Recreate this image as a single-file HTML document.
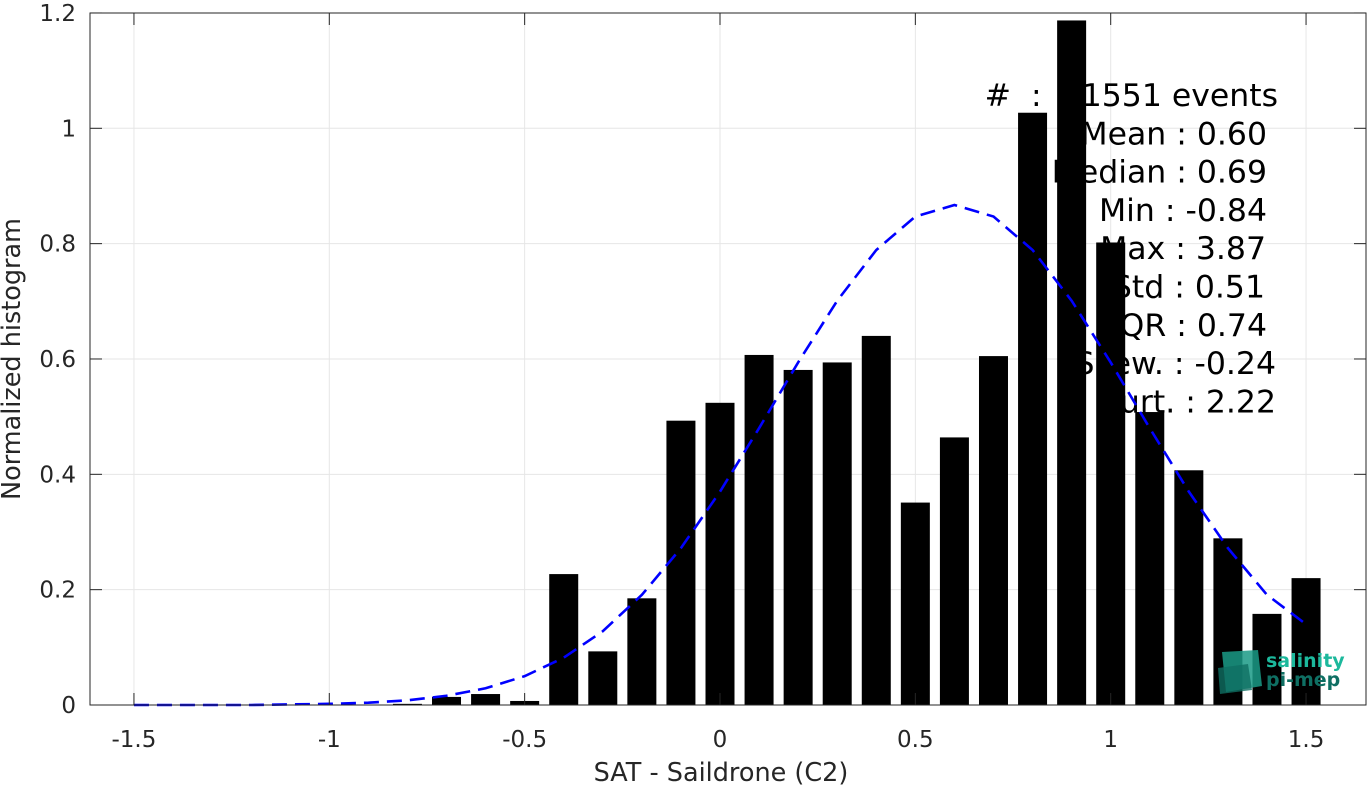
<!DOCTYPE html>
<html><head><meta charset="utf-8"><style>
body{margin:0;background:#fff;width:1367px;height:785px;overflow:hidden}
text{font-family:"DejaVu Sans","Liberation Sans",sans-serif;white-space:pre}
</style></head><body>
<svg id="chart" width="1367" height="785" xmlns="http://www.w3.org/2000/svg"></svg>
<script>
const binCenters=[-0.8,-0.7,-0.6,-0.5,-0.4,-0.3,-0.2,-0.1,0,0.1,0.2,0.3,0.4,0.5,0.6,0.7,0.8,0.9,1.0,1.1,1.2,1.3,1.4,1.5];
const binValues=[0.002,0.014,0.019,0.007,0.227,0.093,0.185,0.493,0.524,0.607,0.581,0.594,0.640,0.351,0.464,0.605,1.027,1.187,0.802,0.508,0.407,0.289,0.158,0.220];
const fitX=[-1.5,-1.4,-1.3,-1.2,-1.1,-1.0,-0.9,-0.8,-0.7,-0.6,-0.5,-0.4,-0.3,-0.2,-0.1,0,0.1,0.2,0.3,0.4,0.5,0.6,0.7,0.8,0.9,1.0,1.1,1.2,1.3,1.4,1.5];
const fitY=[0.0,0.0,0.0,0.0,0.001,0.002,0.004,0.008,0.016,0.029,0.050,0.082,0.128,0.191,0.272,0.370,0.480,0.594,0.701,0.789,0.847,0.867,0.847,0.789,0.701,0.594,0.480,0.370,0.272,0.191,0.140];
const xTicks=[-1.5,-1,-0.5,0,0.5,1,1.5];
const xTickLabels=["-1.5","-1","-0.5","0","0.5","1","1.5"];
const yTicks=[0,0.2,0.4,0.6,0.8,1,1.2];
const yTickLabels=["0","0.2","0.4","0.6","0.8","1","1.2"];
const statsLines=["#  :  11551 events","Mean : 0.60","Median : 0.69","Min : -0.84","Max : 3.87","Std : 0.51","IQR : 0.74","Skew. : -0.24","Kurt. : 2.22"];
const statsEnds=[1278,1267,1267,1267,1266,1265,1267,1276,1276];

const L=90,R=1366,T=13,B=705;
const X=v=>720+v*390.7;
const Y=v=>705-v*576.7;
const svg=document.getElementById('chart');
const NS='http://www.w3.org/2000/svg';
function mk(tag,attrs,parent){const e=document.createElementNS(NS,tag);for(const k in attrs)e.setAttribute(k,attrs[k]);(parent||svg).appendChild(e);return e;}

xTicks.forEach((t,i)=>{
  const g=mk('line',{x1:X(t),x2:X(t),y1:T,y2:B,stroke:'#e6e6e6','stroke-width':1});
  
  
});
yTicks.forEach((t,i)=>{
  const g=mk('line',{x1:L,x2:R,y1:Y(t),y2:Y(t),stroke:'#e6e6e6','stroke-width':1});
  
  
});
statsLines.forEach((s,i)=>{
  const t=mk('text',{x:statsEnds[i],y:106+i*38.3,'font-size':31.5,'text-anchor':'end',fill:'#000'});
  t.textContent=s;
  
  
});
binCenters.forEach((c,i)=>{
  const h=Y(0)-Y(binValues[i]);
  const b=mk('rect',{x:X(c)-14.5,y:Y(binValues[i]),width:29,height:h,fill:'#000'});
  
  
});
const pts=fitX.map((x,i)=>X(x)+','+Y(fitY[i])).join(' ');
const pl=mk('polyline',{points:pts,fill:'none',stroke:'#0000ff','stroke-width':2.6,'stroke-dasharray':'15,8'});


const box=mk('rect',{x:L,y:T,width:R-L,height:B-T,fill:'none',stroke:'#262626','stroke-width':1});


xTicks.forEach((t,i)=>{
  mk('line',{x1:X(t),x2:X(t),y1:B,y2:B-12,stroke:'#262626'});
  mk('line',{x1:X(t),x2:X(t),y1:T,y2:T+12,stroke:'#262626'});
  const lb=mk('text',{x:X(t),y:B+42,'font-size':23,'text-anchor':'middle',fill:'#262626'});
  lb.textContent=xTickLabels[i];
  
  
});
yTicks.forEach((t,i)=>{
  mk('line',{x1:L,x2:L+12,y1:Y(t),y2:Y(t),stroke:'#262626'});
  mk('line',{x1:R,x2:R-12,y1:Y(t),y2:Y(t),stroke:'#262626'});
  const lb=mk('text',{x:L-14,y:Y(t)+8,'font-size':23,'text-anchor':'end',fill:'#262626'});
  lb.textContent=yTickLabels[i];
  
  
});
const xt=mk('text',{x:721,y:781,'font-size':25.5,'text-anchor':'middle',fill:'#262626'});
xt.textContent='SAT - Saildrone (C2)';


const yt=mk('text',{x:0,y:0,'font-size':25.5,'text-anchor':'middle',fill:'#262626',transform:'translate(20,359) rotate(-90)'});
yt.textContent='Normalized histogram';


const lg=mk('g',{});


mk('polygon',{points:'1222,652 1258,650 1262,686 1226,692',fill:'#1a9a86',opacity:0.85},lg);
mk('polygon',{points:'1218,668 1248,664 1252,690 1220,694',fill:'#0f6f63',opacity:0.8},lg);
const t1=mk('text',{x:1266,y:667,'font-size':19,'font-weight':'bold',fill:'#1cb89c'},lg);t1.textContent='salinity';
const t2=mk('text',{x:1266,y:686,'font-size':19,'font-weight':'bold',fill:'#0f6f63'},lg);t2.textContent='pi-mep';
</script>
</body></html>
